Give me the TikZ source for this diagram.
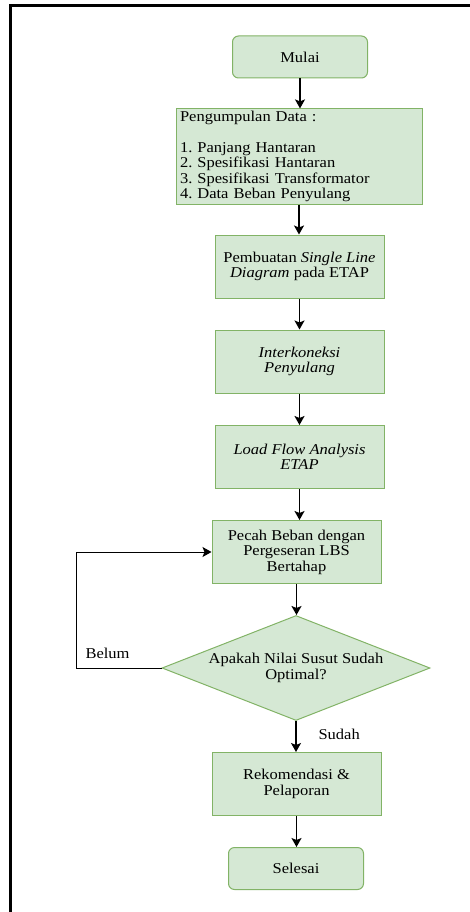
\documentclass[tikz,border=0pt]{standalone}
\usepackage{fontspec}
\setmainfont{Liberation Serif}[FakeStretch=1.1]
\usepackage{tikz}
\usetikzlibrary{arrows.meta, positioning, shapes.geometric}
\definecolor{hijauisi}{HTML}{D5E8D4}
\definecolor{hijaugaris}{HTML}{82B366}
\frenchspacing

\begin{document}
\begin{tikzpicture}[x=1pt, y=-1pt,
  font=\fontsize{15}{15.5}\selectfont,
  proses/.style={draw=hijaugaris, fill=hijauisi, line width=1pt, minimum width=169pt, minimum height=63pt, align=center, inner sep=2pt},
  terminal/.style={draw=hijaugaris, fill=hijauisi, line width=1pt, rounded corners=6pt, minimum width=135pt, minimum height=42pt},
  keputusan/.style={draw=hijaugaris, fill=hijauisi, line width=1pt, diamond, aspect=2.58, inner sep=0pt, minimum width=268pt, minimum height=105pt, align=center},
  panah/.style={-{Stealth[length=9pt, width=10pt, inset=2pt]}, line width=1.4pt}]
\useasboundingbox (0,0) rectangle (470,912);
% bingkai
\draw[line width=2.6pt] (10.5,912) -- (10.5,5.3) -- (470,5.3);

% langkah-langkah
\node[terminal] (mulai) at (300,57) {Mulai};
\node[proses, align=left, text width=238pt, inner xsep=4pt, minimum height=95pt] (data) at (299,156.5)
  {Pengumpulan Data :\\[15.5pt]1. Panjang Hantaran\\2. Spesifikasi Hantaran\\3. Spesifikasi Transformator\\4. Data Beban Penyulang};
\node[proses] (sld) at (299.5,266.5) {Pembuatan \textit{Single Line}\\\textit{Diagram} pada ETAP};
\node[proses] (interkoneksi) at (299.5,361.5) {\textit{Interkoneksi}\\\textit{Penyulang}};
\node[proses] (loadflow) at (299.5,457) {\textit{Load Flow Analysis}\\\textit{ETAP}};
\node[proses] (pecah) at (296.5,552) {Pecah Beban dengan\\Pergeseran LBS\\Bertahap};
\node[keputusan] (cek) at (296,668) {Apakah Nilai Susut Sudah\\Optimal?};
\node[proses] (rekom) at (296.5,784) {Rekomendasi \&\\Pelaporan};
\node[terminal] (selesai) at (296,868.5) {Selesai};

% panah
\draw[panah] (mulai) -- (mulai |- data.north);
\draw[panah] (data) -- (data |- sld.north);
\draw[panah] (sld) -- (interkoneksi);
\draw[panah] (interkoneksi) -- (loadflow);
\draw[panah] (loadflow.south) -- (loadflow.south |- pecah.north);
\draw[panah] (pecah) -- (pecah |- cek.north);
\draw[panah] (cek.south) -- (cek.south |- rekom.north);
\draw[panah] (rekom) -- (rekom |- selesai.north);
\draw[panah, line width=1pt] (cek.west) -- ++(-85,0) |- (pecah.west);

% label
\node[anchor=west] (belum) at (82,653) {Belum};
\node[anchor=west] (sudah) at (315,734) {Sudah};

\end{tikzpicture}
\end{document}
